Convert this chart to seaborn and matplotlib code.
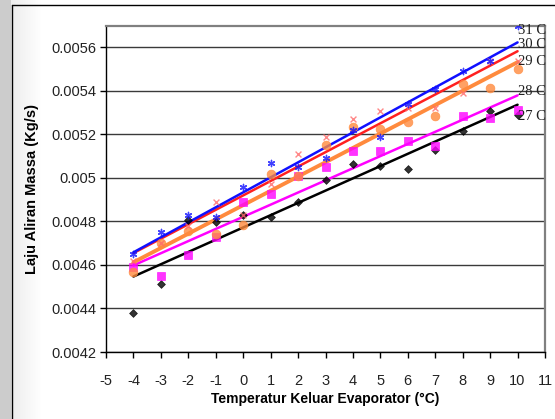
import numpy as np
import pandas as pd
import matplotlib
matplotlib.use("Agg")
import matplotlib.pyplot as plt
import seaborn as sns

# ---------------- data ----------------
temperatures = [-4, -3, -2, -1, 0, 1, 2, 3, 4, 5, 6, 7, 8, 9, 10]

flow_27 = [0.004377, 0.004513, 0.004809, 0.004796, 0.004832, 0.004820, 0.004888, 0.004990,
           0.005064, 0.005057, 0.005041, 0.005127, 0.005217, 0.005306, 0.005291]
flow_28 = [0.004590, 0.004551, 0.004648, 0.004730, 0.004890, 0.004925, 0.005010, 0.005049,
           0.005126, 0.005122, 0.005168, 0.005149, 0.005286, 0.005276, 0.005314]
flow_29 = [0.004570, 0.004700, 0.004755, 0.004744, 0.004786, 0.005020, 0.005010, 0.005153,
           0.005234, 0.005225, 0.005256, 0.005286, 0.005433, 0.005413, 0.005501]
flow_30 = [0.004620, 0.004700, 0.004780, 0.004890, 0.004830, 0.004970, 0.005110, 0.005190,
           0.005270, 0.005310, 0.005320, 0.005320, 0.005390, 0.005540, 0.005540]
flow_31 = [0.004650, 0.004750, 0.004830, 0.004820, 0.004960, 0.005070, 0.005050, 0.005090,
           0.005220, 0.005190, 0.005340, 0.005410, 0.005490, 0.005540, 0.005700]

series_names = ["27 C", "28 C", "29 C", "30 C", "31 C"]
series_values = [flow_27, flow_28, flow_29, flow_30, flow_31]

x_ticks = list(range(-5, 12))
x_tick_labels = [str(v) for v in x_ticks]
y_ticks = [0.0042, 0.0044, 0.0046, 0.0048, 0.0050, 0.0052, 0.0054, 0.0056]
y_tick_labels = ["0.0042", "0.0044", "0.0046", "0.0048", "0.005", "0.0052", "0.0054", "0.0056"]

x_label = "Temperatur Keluar Evaporator (°C)"
y_label = "Laju Aliran Massa (Kg/s)"

# ---------------- styling ----------------
sns.set_style("white")
plt.rcParams["font.family"] = ["Liberation Sans", "DejaVu Sans"]

styles = {
    "27 C": dict(color="#000000", marker="D", s=16, lw=1.8, mlw=0.5),
    "28 C": dict(color="#ff00ff", marker="s", s=26, lw=1.8, mlw=0.5),
    "29 C": dict(color="#ff8a3d", marker="o", s=40, lw=2.8, mlw=0.5),
    "30 C": dict(color="#ff2020", marker="x", s=18, lw=1.8, mlw=1.0),
    "31 C": dict(color="#1010ff", marker=(6, 2, 0), s=20, lw=1.8, mlw=1.0),
}
marker_colors = {"30 C": "#ff6a6a"}
label_y = {"31 C": 0.005677, "30 C": 0.005612, "29 C": 0.005534, "28 C": 0.005396, "27 C": 0.005281}

df = pd.DataFrame({
    "T": np.tile(temperatures, len(series_names)),
    "m": np.concatenate(series_values),
    "series": np.repeat(series_names, len(temperatures)),
})

W, H = 555, 419
fig = plt.figure(figsize=(W / 100, H / 100), dpi=100)

# background: grey strip on the left and outer chart border
bg = fig.add_axes([0, 0, 1, 1], zorder=-5)
bg.set_xlim(0, W)
bg.set_ylim(0, H)
bg.axis("off")
cols = np.arange(W)
grey = np.where(cols < 11, 0.80, np.clip(0.93 + (cols - 11) / 30 * 0.07, 0, 1))
img = np.repeat(np.stack([grey, grey, grey], axis=-1)[None, :, :], 2, axis=0)
bg.imshow(img, extent=[0, W, 0, H], aspect="auto")
bg.plot([11.5, 11.5], [0, H - 5.5], color="black", lw=1)
bg.plot([11.5, W], [H - 5.5, H - 5.5], color="black", lw=1)

ax = fig.add_axes([106 / W, 1 - 352 / H, 439 / W, 326.3 / H])
ax.set_facecolor("white")

for name in series_names:
    st = styles[name]
    sub = df[df["series"] == name]
    sns.regplot(
        data=sub, x="T", y="m", ax=ax, ci=None, truncate=True,
        marker=st["marker"],
        scatter_kws=dict(s=st["s"], color=marker_colors.get(name, st["color"]),
                         linewidths=st["mlw"], zorder=3),
        line_kws=dict(color=st["color"], lw=st["lw"], zorder=2),
    )
    ax.text(10.0, label_y[name], name, ha="left", va="center",
            family=["Liberation Serif", "DejaVu Serif"], fontsize=10.5,
            color="#202020", clip_on=False, zorder=5)

ax.set_xlim(-5, 11)
ax.set_ylim(0.0042, 0.0057)
ax.set_xticks(x_ticks)
ax.set_xticklabels(x_tick_labels)
ax.set_yticks(y_ticks)
ax.set_yticklabels(y_tick_labels)
ax.tick_params(axis="both", which="major", direction="out", length=4, width=1,
               colors="black", labelsize=10.5, labelcolor="#222222")
ax.tick_params(axis="x", bottom=True, top=False, pad=12)
ax.tick_params(axis="y", left=True, right=False, pad=3)

ax.yaxis.grid(True, color="#3a3a3a", lw=1)
ax.xaxis.grid(False)
ax.set_axisbelow(True)

for side in ["top", "right"]:
    ax.spines[side].set_color("#808080")
    ax.spines[side].set_linewidth(1.6)
for side in ["left", "bottom"]:
    ax.spines[side].set_color("black")
    ax.spines[side].set_linewidth(1.0)

ax.set_xlabel(x_label, fontsize=10, fontweight="bold", color="black")
ax.set_ylabel(y_label, fontsize=10.5, fontweight="bold", color="black")
ax.xaxis.set_label_coords((325 - 106) / 439, (352 - 392) / 326.3)
ax.yaxis.set_label_coords((39 - 106) / 439, 0.5)

fig.savefig("out.png", dpi=100)
